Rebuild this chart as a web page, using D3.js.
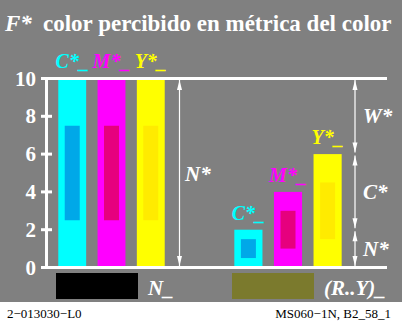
<!DOCTYPE html>
<html>
<head>
<meta charset="utf-8">
<script src="https://cdn.jsdelivr.net/npm/d3@7"></script>
<style>
  body { margin: 0; background: #fff; }
  svg text { font-family: "Liberation Serif", "Times New Roman", serif; }
</style>
</head>
<body>
<div id="app"></div>
<script>
// data
var yTicks = [0, 2, 4, 6, 8, 10];
var barColors = ['#00ffff', '#ff00ff', '#ffff00'];
var innerColors = ['#00a8e8', '#e6007e', '#ffeb00'];
var barLabels = ['C*_', 'M*_', 'Y*_'];
var leftValues = [10, 10, 10];
var rightValues = [2, 4, 6];
var rightSegments = [[10, 6, 'W*'], [6, 2, 'C*'], [2, 0, 'N*']];
var legendItems = [['#000000', 'N_'], ['#7b7a2d', '(R..Y)_']];

var width = 413, height = 324;

var svg = d3.select('#app').append('svg')
            .attr('width', width)
            .attr('height', height);

svg.append('rect')
   .attr('x', 0).attr('y', 0)
   .attr('width', 402).attr('height', 302)
   .attr('fill', '#808080');

var y = d3.scaleLinear().domain([0, 10]).range([267.5, 78.5]);

// bar x positions
var xLeft = d3.scaleBand().domain([0, 1, 2]).range([52, 171]).paddingInner(0.29).paddingOuter(0.16);
var xRight = d3.scaleBand().domain([0, 1, 2]).range([228, 348]).paddingInner(0.29).paddingOuter(0.16);

function drawGroup(xs, values) {
  values.forEach(function(v, i) {
    var bx = xs(i), bw = xs.bandwidth();
    svg.append('rect')
       .attr('x', bx).attr('y', y(v))
       .attr('width', bw).attr('height', y(0) - y(v))
       .attr('fill', barColors[i]);
    svg.append('rect')
       .attr('x', bx + bw / 2 - 7.5).attr('y', y(v * 0.75))
       .attr('width', 15).attr('height', y(v * 0.25) - y(v * 0.75))
       .attr('fill', innerColors[i]);
  });
}
drawGroup(xLeft, leftValues);
drawGroup(xRight, rightValues);

// axes lines
svg.append('line')
   .attr('x1', 46.5).attr('x2', 46.5)
   .attr('y1', y(10)).attr('y2', y(0))
   .attr('stroke', '#fff').attr('stroke-width', 3);
[0, 10].forEach(function(v) {
  svg.append('line')
     .attr('x1', 41).attr('x2', 387)
     .attr('y1', y(v)).attr('y2', y(v))
     .attr('stroke', '#fff').attr('stroke-width', 3);
});
svg.selectAll('.tick').data(yTicks).enter().append('line')
   .attr('x1', 41).attr('x2', 52)
   .attr('y1', function(d) { return y(d); })
   .attr('y2', function(d) { return y(d); })
   .attr('stroke', '#fff').attr('stroke-width', 3);
svg.selectAll('.tlab').data(yTicks).enter().append('text')
   .attr('x', 36).attr('y', function(d) { return y(d) + 7; })
   .attr('text-anchor', 'end')
   .attr('font-size', 21).attr('font-weight', 'bold')
   .attr('fill', '#fff')
   .text(function(d) { return d; });

// title
svg.append('text')
   .attr('x', 5).attr('y', 31)
   .attr('font-size', 23).attr('font-weight', 'bold').attr('font-style', 'italic')
   .attr('fill', '#fff').text('F*');
svg.append('text')
   .attr('x', 43).attr('y', 31)
   .attr('font-size', 23).attr('font-weight', 'bold')
   .attr('fill', '#fff').text('color percibido en métrica del color');

// bar labels
barLabels.forEach(function(t, i) {
  svg.append('text')
     .attr('x', xLeft(i) + xLeft.bandwidth() / 2).attr('y', 68)
     .attr('text-anchor', 'middle')
     .attr('font-size', 20).attr('font-weight', 'bold').attr('font-style', 'italic')
     .attr('fill', barColors[i]).text(t);
  svg.append('text')
     .attr('x', xRight(i) + xRight.bandwidth() / 2).attr('y', y(rightValues[i]) - 10)
     .attr('text-anchor', 'middle')
     .attr('font-size', 20).attr('font-weight', 'bold').attr('font-style', 'italic')
     .attr('fill', barColors[i]).text(t);
});

// arrows
function arrow(x, v1, v2) {
  var a = y(v1) + 1.5, b = y(v2) - 1.5;
  svg.append('line')
     .attr('x1', x).attr('x2', x).attr('y1', a).attr('y2', b)
     .attr('stroke', '#fff').attr('stroke-width', 1.2);
  svg.append('path')
     .attr('d', 'M' + x + ',' + a + 'l-2.5,10l5,0z')
     .attr('fill', '#fff');
  svg.append('path')
     .attr('d', 'M' + x + ',' + b + 'l-2.5,-10l5,0z')
     .attr('fill', '#fff');
}
arrow(179.5, 10, 0);
svg.append('text')
   .attr('x', 185).attr('y', 181)
   .attr('font-size', 21).attr('font-weight', 'bold').attr('font-style', 'italic')
   .attr('fill', '#fff').text('N*');

rightSegments.forEach(function(s) {
  arrow(355, s[0], s[1]);
  svg.append('text')
     .attr('x', 363).attr('y', (y(s[0]) + y(s[1])) / 2 + 7)
     .attr('font-size', 21).attr('font-weight', 'bold').attr('font-style', 'italic')
     .attr('fill', '#fff').text(s[2]);
});

// legend
var legX = [56, 232];
legendItems.forEach(function(d, i) {
  svg.append('rect')
     .attr('x', legX[i]).attr('y', 273)
     .attr('width', 82).attr('height', 26)
     .attr('fill', d[0]);
  svg.append('text')
     .attr('x', legX[i] + 92).attr('y', 295)
     .attr('font-size', 21).attr('font-weight', 'bold').attr('font-style', 'italic')
     .attr('fill', '#fff').text(d[1]);
});

// footer
svg.append('text')
   .attr('x', 7).attr('y', 318)
   .attr('font-size', 13).attr('fill', '#000').text('2−013030−L0');
svg.append('text')
   .attr('x', 391).attr('y', 318).attr('text-anchor', 'end')
   .attr('font-size', 13).attr('fill', '#000').text('MS060−1N, B2_58_1');
</script>
</body>
</html>
